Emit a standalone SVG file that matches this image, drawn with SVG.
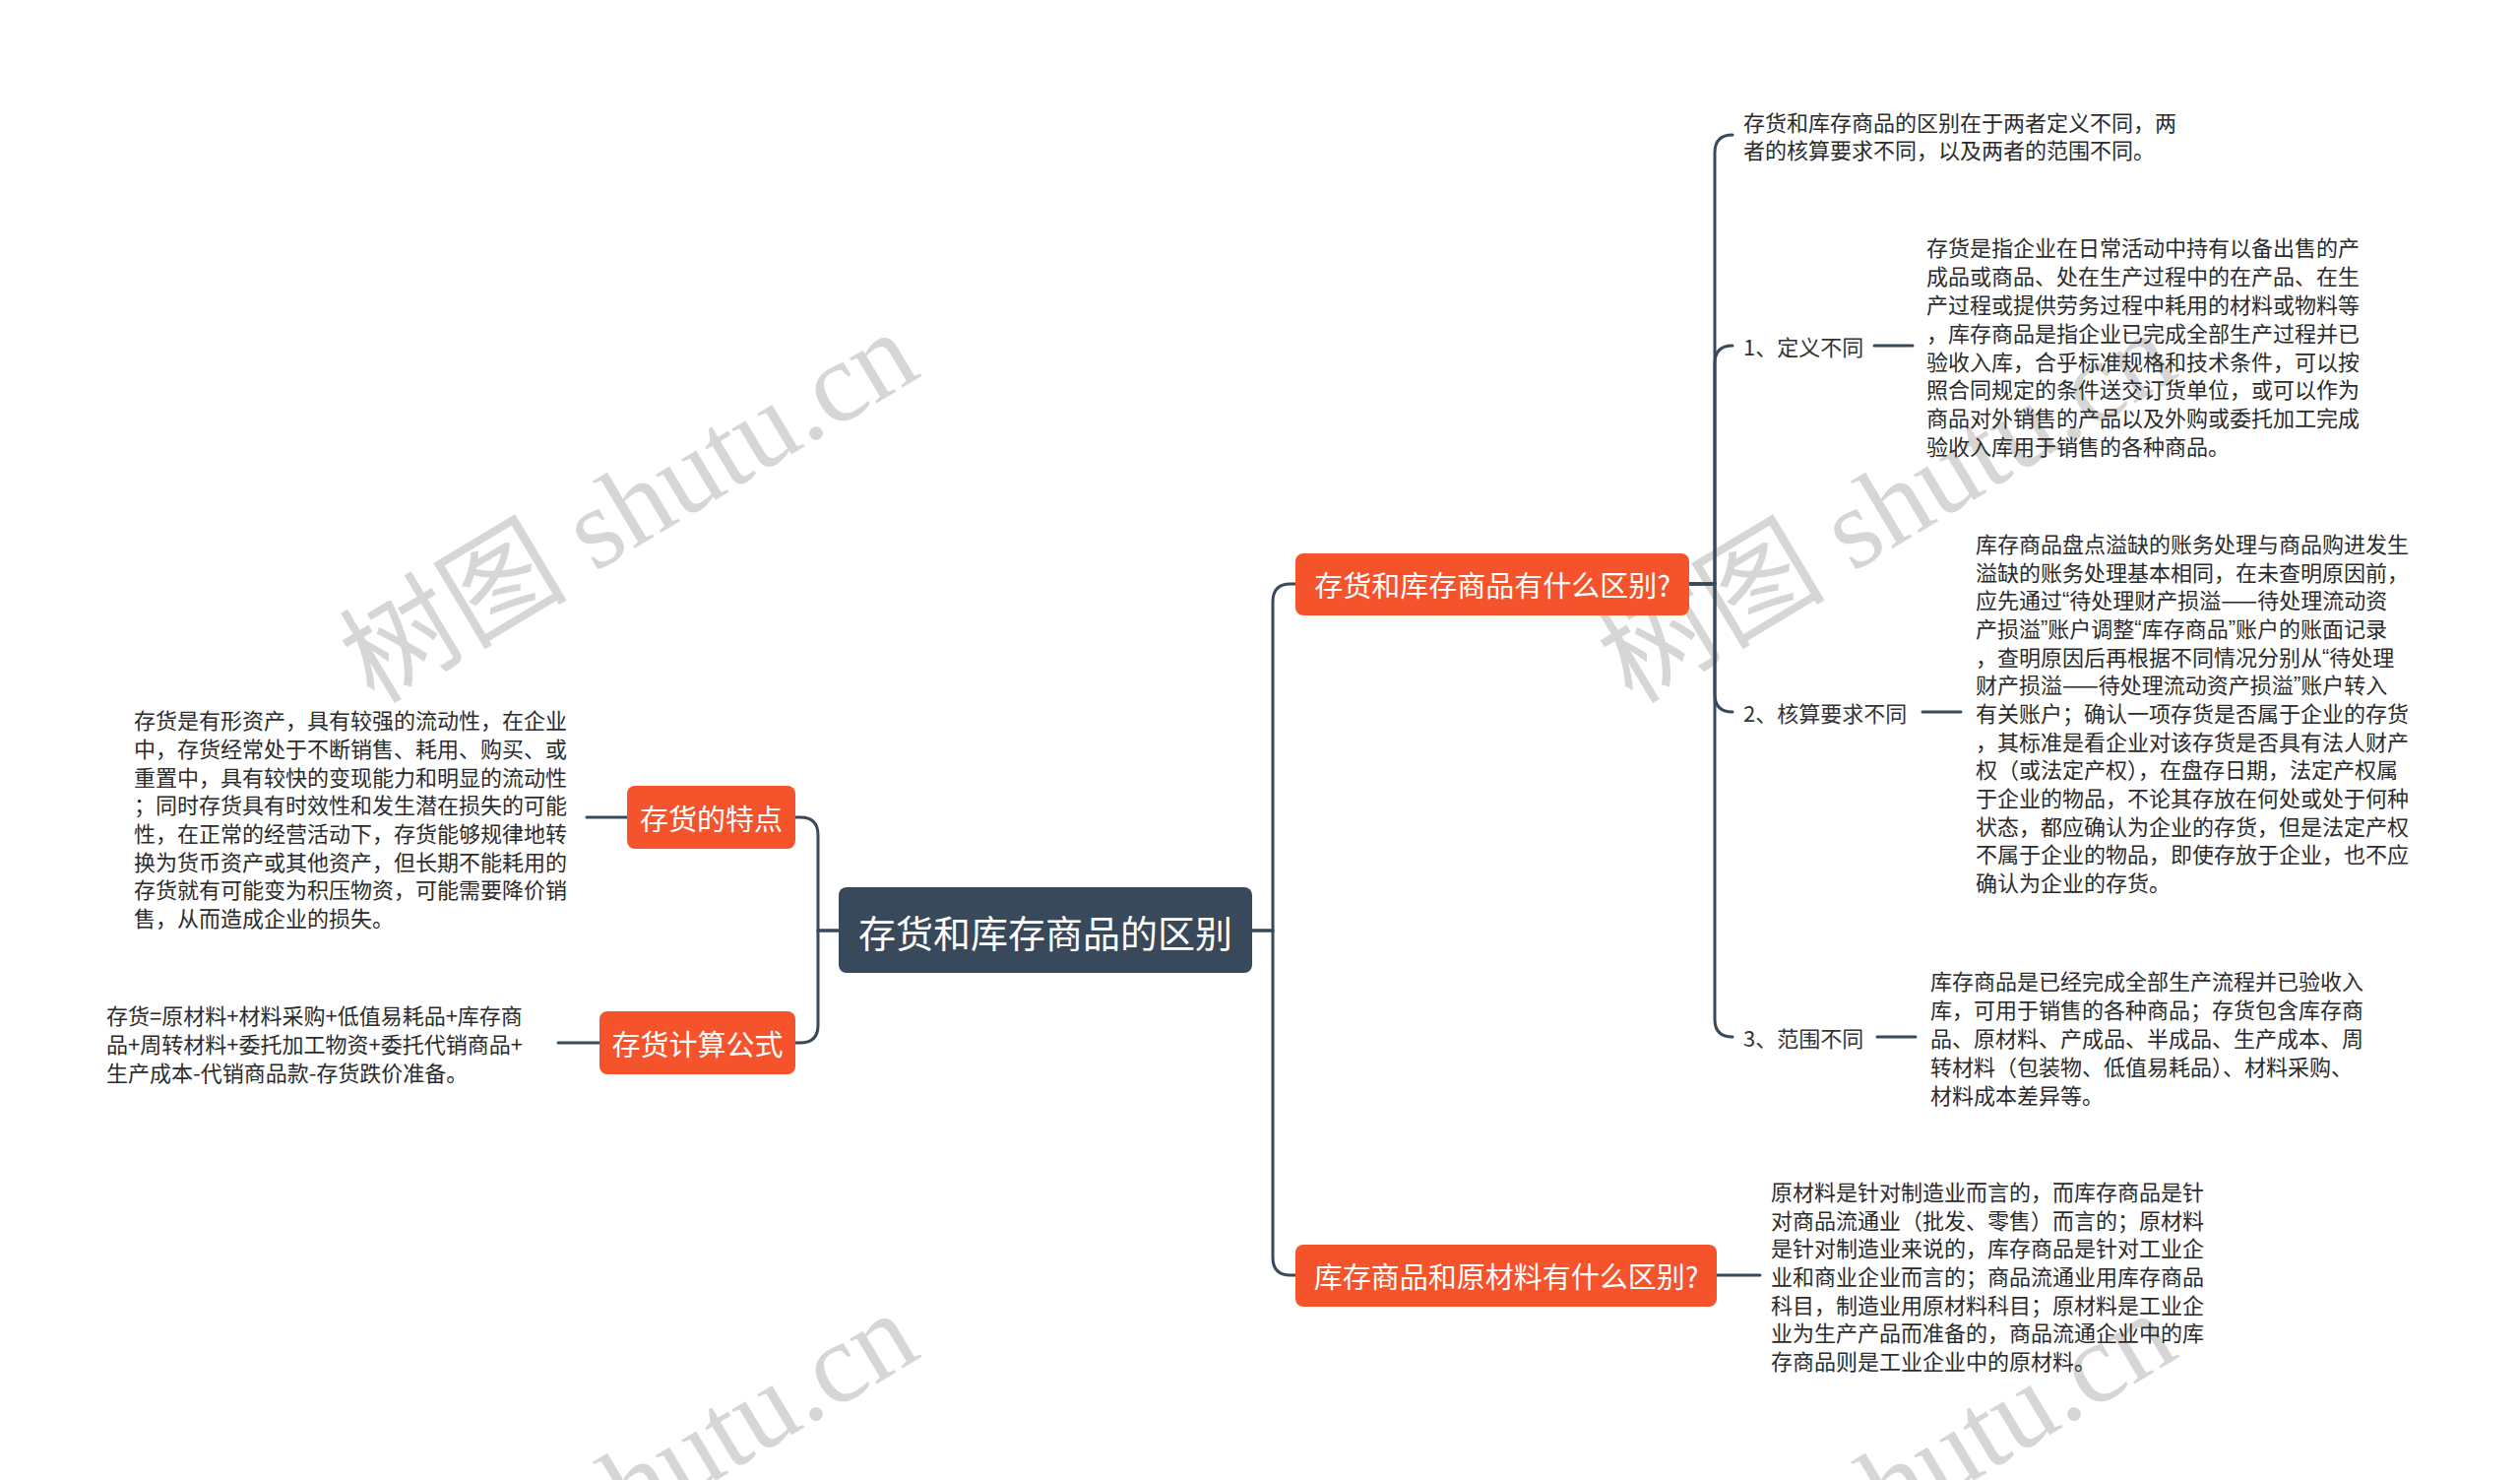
<svg xmlns="http://www.w3.org/2000/svg" width="2560" height="1503" viewBox="0 0 2560 1503">
<style>
.wm{font-family:"Liberation Serif","Noto Sans CJK SC",serif;font-size:116px;fill:#d6d6d6}
.conn{fill:none;stroke:#37495a;stroke-width:3;stroke-linecap:round}
.root rect{fill:#37495a}
.root text{font-family:"Noto Sans CJK SC",sans-serif;font-size:38px;fill:#fff;text-anchor:middle;dominant-baseline:central}
.main rect{fill:#f4532c}
.main text{font-family:"Noto Sans CJK SC",sans-serif;font-size:29px;fill:#fff;text-anchor:middle;dominant-baseline:central}
.lbl{font-family:"Noto Sans CJK SC",sans-serif;font-size:22px;fill:#333;dominant-baseline:central}
.det{font-family:"Noto Sans CJK SC",sans-serif;font-size:22px;fill:#2b2b2b;dominant-baseline:central}
.q{font-family:"Liberation Sans",sans-serif}
</style>
<rect width="2560" height="1503" fill="#fff"/>
<g id="watermarks">
<text class="wm" transform="translate(380,716) rotate(-31)">树图 shutu.cn</text>
<text class="wm" transform="translate(1658,716) rotate(-31)">树图 shutu.cn</text>
<text class="wm" transform="translate(380,1712) rotate(-31)">树图 shutu.cn</text>
<text class="wm" transform="translate(1658,1712) rotate(-31)">树图 shutu.cn</text>
</g>
<g id="connectors">
<path class="conn" d="M1272,945 H1293 V611 Q1293,593 1311,593 H1316"/>
<path class="conn" d="M1272,945 H1293 V1277 Q1293,1295 1311,1295 H1316"/>
<path class="conn" d="M852,945 H831 V848 Q831,830 813,830 H808"/>
<path class="conn" d="M852,945 H831 V1041 Q831,1059 813,1059 H808"/>
<path class="conn" d="M1716,593 H1742 V155 Q1742,137 1760,137"/>
<path class="conn" d="M1716,593 H1742 V369 Q1742,351 1760,351"/>
<path class="conn" d="M1716,593 H1742 V705 Q1742,723 1760,723"/>
<path class="conn" d="M1716,593 H1742 V1035 Q1742,1053 1760,1053"/>
<path class="conn" d="M1904,351 H1943"/>
<path class="conn" d="M1953,723 H1992"/>
<path class="conn" d="M1907,1053 H1946"/>
<path class="conn" d="M1744,1295 H1788"/>
<path class="conn" d="M596,830 H637"/>
<path class="conn" d="M567,1059 H609"/>
</g>
<g id="root" class="root">
<rect x="852" y="901" width="420" height="87" rx="8"/>
<text x="1062" y="945">存货和库存商品的区别</text>
</g>
<g id="n-qubie" class="main">
<rect x="1316" y="562" width="400" height="63" rx="8"/>
<text x="1516" y="593">存货和库存商品有什么区别?</text>
</g>
<g id="n-yuancailiao" class="main">
<rect x="1316" y="1264" width="428" height="63" rx="8"/>
<text x="1530" y="1295">库存商品和原材料有什么区别?</text>
</g>
<g id="n-tedian" class="main">
<rect x="637" y="798" width="171" height="64" rx="8"/>
<text x="722.5" y="830">存货的特点</text>
</g>
<g id="n-gongshi" class="main">
<rect x="609" y="1027" width="199" height="64" rx="8"/>
<text x="708.5" y="1059">存货计算公式</text>
</g>
<g id="n-summary">
<text class="det" x="1771"><tspan x="1771" y="123">存货和库存商品的区别在于两者定义不同，两</tspan><tspan x="1771" y="151">者的核算要求不同，以及两者的范围不同。</tspan></text>
</g>
<g id="n-dingyi">
<text class="lbl" x="1771" y="351">1、定义不同</text>
<text class="det"><tspan x="1957" y="250">存货是指企业在日常活动中持有以备出售的产</tspan><tspan x="1957" y="279">成品或商品、处在生产过程中的在产品、在生</tspan><tspan x="1957" y="308">产过程或提供劳务过程中耗用的材料或物料等</tspan><tspan x="1957" y="337">，库存商品是指企业已完成全部生产过程并已</tspan><tspan x="1957" y="366">验收入库，合乎标准规格和技术条件，可以按</tspan><tspan x="1957" y="394">照合同规定的条件送交订货单位，或可以作为</tspan><tspan x="1957" y="423">商品对外销售的产品以及外购或委托加工完成</tspan><tspan x="1957" y="452">验收入库用于销售的各种商品。</tspan></text>
</g>
<g id="n-hesuan">
<text class="lbl" x="1771" y="723">2、核算要求不同</text>
<text class="det"><tspan x="2007" y="551">库存商品盘点溢缺的账务处理与商品购进发生</tspan><tspan x="2007" y="580">溢缺的账务处理基本相同，在未查明原因前，</tspan><tspan x="2007" y="608">应先通过<tspan class="q">“</tspan>待处理财产损溢——待处理流动资</tspan><tspan x="2007" y="637">产损溢<tspan class="q">”</tspan>账户调整<tspan class="q">“</tspan>库存商品<tspan class="q">”</tspan>账户的账面记录</tspan><tspan x="2007" y="666">，查明原因后再根据不同情况分别从<tspan class="q">“</tspan>待处理</tspan><tspan x="2007" y="694">财产损溢——待处理流动资产损溢<tspan class="q">”</tspan>账户转入</tspan><tspan x="2007" y="723">有关账户；确认一项存货是否属于企业的存货</tspan><tspan x="2007" y="752">，其标准是看企业对该存货是否具有法人财产</tspan><tspan x="2007" y="780">权（或法定产权），在盘存日期，法定产权属</tspan><tspan x="2007" y="809">于企业的物品，不论其存放在何处或处于何种</tspan><tspan x="2007" y="838">状态，都应确认为企业的存货，但是法定产权</tspan><tspan x="2007" y="866">不属于企业的物品，即使存放于企业，也不应</tspan><tspan x="2007" y="895">确认为企业的存货。</tspan></text>
</g>
<g id="n-fanwei">
<text class="lbl" x="1771" y="1053">3、范围不同</text>
<text class="det"><tspan x="1961" y="995">库存商品是已经完成全部生产流程并已验收入</tspan><tspan x="1961" y="1024">库，可用于销售的各种商品；存货包含库存商</tspan><tspan x="1961" y="1053">品、原材料、产成品、半成品、生产成本、周</tspan><tspan x="1961" y="1082">转材料（包装物、低值易耗品）、材料采购、</tspan><tspan x="1961" y="1111">材料成本差异等。</tspan></text>
</g>
<g id="n-yuancailiao-detail">
<text class="det"><tspan x="1799" y="1209">原材料是针对制造业而言的，而库存商品是针</tspan><tspan x="1799" y="1238">对商品流通业（批发、零售）而言的；原材料</tspan><tspan x="1799" y="1266">是针对制造业来说的，库存商品是针对工业企</tspan><tspan x="1799" y="1295">业和商业企业而言的；商品流通业用库存商品</tspan><tspan x="1799" y="1324">科目，制造业用原材料科目；原材料是工业企</tspan><tspan x="1799" y="1352">业为生产产品而准备的，商品流通企业中的库</tspan><tspan x="1799" y="1381">存商品则是工业企业中的原材料。</tspan></text>
</g>
<g id="n-tedian-detail">
<text class="det"><tspan x="136" y="730">存货是有形资产，具有较强的流动性，在企业</tspan><tspan x="136" y="759">中，存货经常处于不断销售、耗用、购买、或</tspan><tspan x="136" y="788">重置中，具有较快的变现能力和明显的流动性</tspan><tspan x="136" y="816">；同时存货具有时效性和发生潜在损失的可能</tspan><tspan x="136" y="845">性，在正常的经营活动下，存货能够规律地转</tspan><tspan x="136" y="874">换为货币资产或其他资产，但长期不能耗用的</tspan><tspan x="136" y="902">存货就有可能变为积压物资，可能需要降价销</tspan><tspan x="136" y="931">售，从而造成企业的损失。</tspan></text>
</g>
<g id="n-gongshi-detail">
<text class="det"><tspan x="108" y="1030">存货=原材料+材料采购+低值易耗品+库存商</tspan><tspan x="108" y="1059">品+周转材料+委托加工物资+委托代销商品+</tspan><tspan x="108" y="1088">生产成本-代销商品款-存货跌价准备。</tspan></text>
</g>
</svg>
